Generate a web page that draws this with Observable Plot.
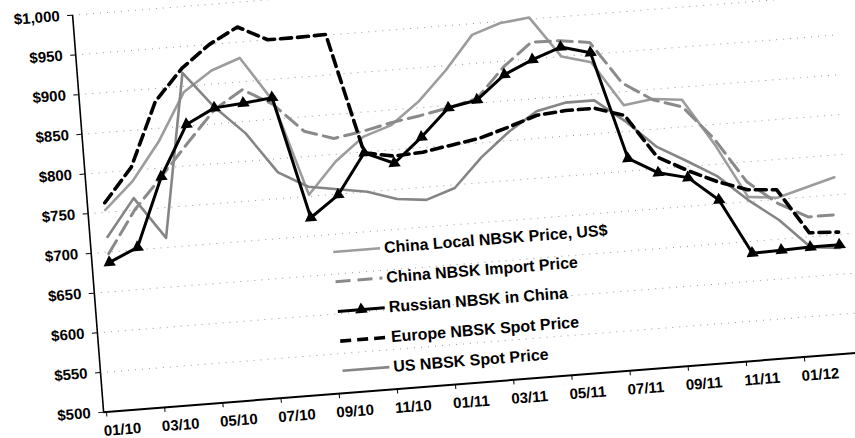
<!DOCTYPE html>
<html><head><meta charset="utf-8">
<script src="https://cdn.jsdelivr.net/npm/d3@7"></script>
<script src="https://cdn.jsdelivr.net/npm/@observablehq/plot@0.6"></script>
<style>
html,body{margin:0;padding:0;background:#fff;overflow:hidden;width:855px;height:438px;}
#wrap{position:absolute;left:0;top:0;width:828px;height:468px;transform-origin:0 0;
  transform:matrix(0.9969,-0.0785,0.0779,0.997,12.83,-10.7);}
#wrap svg{position:absolute;left:0;top:0;overflow:visible;}
</style></head><body><div id="wrap"></div>
<script>
// months 01/10 .. 02/12 (26 monthly points)
const months = ["01/10","02/10","03/10","04/10","05/10","06/10","07/10","08/10","09/10","10/10","11/10","12/10",
  "01/11","02/11","03/11","04/11","05/11","06/11","07/11","08/11","09/11","10/11","11/11","12/11","01/12","02/12"];
const tickLabels = ["01/10","03/10","05/10","07/10","09/10","11/10","01/11","03/11","05/11","07/11","09/11","11/11","01/12"];
const yTicks = [500,550,600,650,700,750,800,850,900,950,1000];

const chinaLocal  = [753,786,833,893,917,930,874,752,791,819,831,858,894,936,948,952,900,890,833,838,834,775,706,702,712,722];
const chinaImport = [698,750,789,829,868,890,869,832,820,826,834,840,847,856,893,921,920,915,861,837,825,782,725,695,675,675];
const russian     = [687,703,789,852,870,873,877,723,749,799,783,813,847,854,883,899,912,902,766,745,736,705,635,636,637,637];
const europe      = [762,804,884,923,950,969,950,950,951,799,792,794,800,806,817,829,832,832,820,765,745,728,715,712,655,653];
const usSpot      = [719,765,712,917,871,835,783,762,756,750,738,734,746,782,811,834,842,842,813,778,757,735,702,674,637,633];

const seriesNames = ["China Local NBSK Price, US$","China NBSK Import Price","Russian NBSK in China","Europe NBSK Spot Price","US NBSK Spot Price"];

const rows = (name, vals) => vals.map((v, i) => ({series: name, month: months[i], u: i + 0.5, v}));
const dLocal = rows(seriesNames[0], chinaLocal);
const dImport = rows(seriesNames[1], chinaImport);
const dRussian = rows(seriesNames[2], russian);
const dEurope = rows(seriesNames[3], europe);
const dUS = rows(seriesNames[4], usSpot);

const tickPos = tickLabels.map((_, i) => i * 2);
const labelPos = tickLabels.map((_, i) => i * 2 + 0.5);
const fmt = d3.format(",");

const W = 828, H = 468;
const chart = Plot.plot({
  width: W, height: H,
  marginLeft: 57.08, marginRight: 9.6, marginTop: 30, marginBottom: 39.8,
  style: {fontFamily: "'Liberation Sans', Arial, sans-serif", fontWeight: "bold", fontSize: "15px", background: "transparent", overflow: "visible"},
  x: {domain: [-0.1, 26], axis: null},
  y: {domain: [500, 1000], axis: null},
  marks: [
    Plot.ruleY(yTicks.filter(v => v > 500), {stroke: "#555", strokeWidth: 1, strokeDasharray: "1,6", strokeOpacity: 0.6}),
    Plot.axisY({ticks: yTicks, tickFormat: d => "$" + fmt(d), tickSize: 5, tickPadding: 8, label: null, fontSize: 15}),
    Plot.axisX({ticks: tickPos, tickFormat: () => "", tickSize: 5, label: null}),
    Plot.axisX({ticks: labelPos, tickFormat: d => tickLabels[Math.round((d - 0.5) / 2)], tickSize: 0, tickPadding: 13, label: null, fontSize: 15}),
    Plot.ruleX([-0.1], {stroke: "black", strokeWidth: 1.6}),
    Plot.ruleY([500], {stroke: "black", strokeWidth: 2}),
    Plot.line(dLocal, {x: "u", y: "v", stroke: "#9c9c9c", strokeWidth: 2.6}),
    Plot.line(dUS, {x: "u", y: "v", stroke: "#858585", strokeWidth: 2.6}),
    Plot.line(dImport, {x: "u", y: "v", stroke: "#8a8a8a", strokeWidth: 3, strokeDasharray: "15,7"}),
    Plot.line(dEurope, {x: "u", y: "v", stroke: "black", strokeWidth: 3.6, strokeDasharray: "11,6"}),
    Plot.line(dRussian, {x: "u", y: "v", stroke: "black", strokeWidth: 3}),
    Plot.dot(dRussian, {x: "u", y: "v", symbol: "triangle", r: 4.6, fill: "black"})
  ]
});
const wrap = document.getElementById("wrap");
wrap.appendChild(chart);

// legend (inside the plot area, tilted with the chart)
const leg = d3.select(wrap).append("svg").attr("width", W).attr("height", H)
  .style("font-family", "'Liberation Sans', Arial, sans-serif").style("font-weight", "bold").style("font-size", "16px");
const styles = [
  {stroke: "#9c9c9c", w: 2.6, dash: null, tri: false},
  {stroke: "#8a8a8a", w: 3, dash: "15,7", tri: false},
  {stroke: "black", w: 3, dash: null, tri: true},
  {stroke: "black", w: 3.6, dash: "11,6", tri: false},
  {stroke: "#858585", w: 2.6, dash: null, tri: false}
];
seriesNames.forEach((name, i) => {
  const base = 292 + i * 29.8;
  const g = leg.append("g");
  const s = styles[i];
  g.append("line").attr("x1", 299).attr("x2", 346).attr("y1", base - 5).attr("y2", base - 5)
    .attr("stroke", s.stroke).attr("stroke-width", s.w).attr("stroke-dasharray", s.dash);
  if (s.tri) g.append("path").attr("d", d3.symbol(d3.symbolTriangle, 66)()).attr("transform", `translate(322.5,${base - 5})`).attr("fill", "black");
  g.append("text").attr("x", 350).attr("y", base).text(name);
});
</script>
</body></html>
